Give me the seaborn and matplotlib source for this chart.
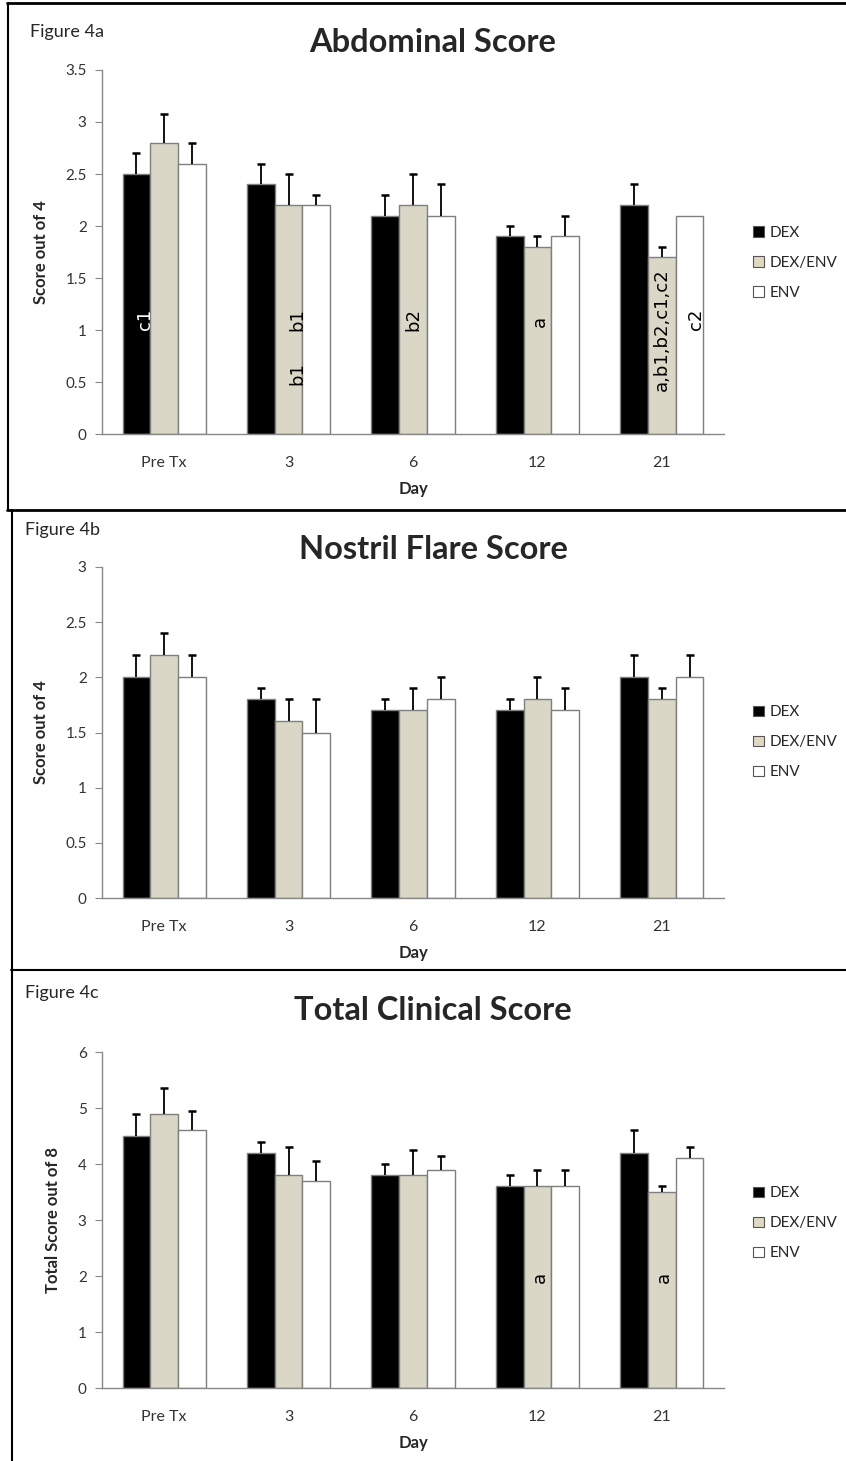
import numpy as np
import pandas as pd
import seaborn as sns
import matplotlib.pyplot as plt
from matplotlib.lines import Line2D
from matplotlib.patches import Patch

days = ["Pre Tx", "3", "6", "12", "21"]
groups = ["DEX", "DEX/ENV", "ENV"]

# Abdominal score (out of 4)
abd_dex = [2.5, 2.4, 2.1, 1.9, 2.2]
abd_dexenv = [2.8, 2.2, 2.2, 1.8, 1.7]
abd_env = [2.6, 2.2, 2.1, 1.9, 2.1]
abd_dex_err = [0.2, 0.2, 0.2, 0.1, 0.2]
abd_dexenv_err = [0.28, 0.3, 0.3, 0.1, 0.1]
abd_env_err = [0.2, 0.1, 0.3, 0.2, 0.0]

# Nostril flare score (out of 4)
nos_dex = [2.0, 1.8, 1.7, 1.7, 2.0]
nos_dexenv = [2.2, 1.6, 1.7, 1.8, 1.8]
nos_env = [2.0, 1.5, 1.8, 1.7, 2.0]
nos_dex_err = [0.2, 0.1, 0.1, 0.1, 0.2]
nos_dexenv_err = [0.2, 0.2, 0.2, 0.2, 0.1]
nos_env_err = [0.2, 0.3, 0.2, 0.2, 0.2]

# Total clinical score (out of 8)
tot_dex = [4.5, 4.2, 3.8, 3.6, 4.2]
tot_dexenv = [4.9, 3.8, 3.8, 3.6, 3.5]
tot_env = [4.6, 3.7, 3.9, 3.6, 4.1]
tot_dex_err = [0.4, 0.2, 0.2, 0.2, 0.4]
tot_dexenv_err = [0.45, 0.5, 0.45, 0.3, 0.1]
tot_env_err = [0.35, 0.35, 0.25, 0.3, 0.2]

# significance letters: (day index, group index, text, y, x offset)
abd_notes = [(0, 0, "c1", 1.1, 0.07), (1, 1, "b1", 1.1, 0.07), (1, 1, "b1", 0.58, 0.07),
             (2, 1, "b2", 1.1, 0.0), (3, 1, "a", 1.08, 0.02),
             (4, 1, "a,b1,b2,c1,c2", 1.0, 0.0), (4, 2, "c2", 1.1, 0.05)]
nos_notes = []
tot_notes = [(3, 1, "a", 1.98, 0.02), (4, 1, "a", 1.98, 0.02)]

palette = {"DEX": "black", "DEX/ENV": "#ddd9c3", "ENV": "white"}
FONT = ["Lato", "DejaVu Sans"]


def make_df(vals, errs):
    rows = []
    for g, v, e in zip(groups, vals, errs):
        for d, vv, ee in zip(days, v, e):
            rows.append({"day": d, "group": g, "score": vv, "err": ee})
    return pd.DataFrame(rows)


def draw_panel(ax, df, ylabel, ymax, ystep, notes, legend_y):
    sns.barplot(data=df, x="day", y="score", hue="group", order=days,
                hue_order=groups, palette=palette, edgecolor="#7f7f7f",
                linewidth=1, errorbar=None, width=0.67, legend=False, ax=ax)
    centers = {}
    bar_containers = list(ax.containers)
    for gi, cont in enumerate(bar_containers):
        sub = df[df["group"] == groups[gi]].set_index("day").loc[days]
        xs, ys, es = [], [], []
        for di, patch in enumerate(cont.patches):
            cx = patch.get_x() + patch.get_width() / 2
            centers[(di, gi)] = cx
            if sub["err"].iloc[di] > 0:
                xs.append(cx)
                ys.append(sub["score"].iloc[di])
                es.append(sub["err"].iloc[di])
        eb = ax.errorbar(xs, ys, yerr=[np.zeros(len(es)), es], fmt="none",
                         ecolor="black", elinewidth=1.3, capsize=3, capthick=1.8)
        # only an upper cap, like the original
        for cap in eb.lines[1]:
            if np.allclose(cap.get_ydata(), ys):
                cap.set_visible(False)
    for di, gi, txt, y, dx in notes:
        color = "white" if gi == 0 else "black"
        ax.text(centers[(di, gi)] + dx, y, txt, rotation=90, ha="center",
                va="center", fontsize=13, color=color, family="DejaVu Sans")

    ax.set_xlim(-0.5, len(days) - 0.5)
    ax.set_ylim(0, ymax)
    ticks = np.arange(0, ymax + ystep / 2, ystep)
    ax.set_yticks(ticks)
    ax.set_yticklabels([f"{t:g}" for t in ticks], family=FONT, fontsize=11, color="#333333")
    ax.set_xticks(range(len(days)))
    ax.set_xticklabels(days, family=FONT, fontsize=11.5, color="#333333")
    ax.set_xticks(np.arange(-0.5, len(days)), minor=True)
    ax.tick_params(axis="x", which="major", length=0, pad=16)
    ax.tick_params(axis="x", which="minor", length=5, color="#888888")
    ax.tick_params(axis="y", length=5, color="#888888", pad=6, left=True)
    for s in ["top", "right"]:
        ax.spines[s].set_visible(False)
    for s in ["left", "bottom"]:
        ax.spines[s].set_color("#888888")
        ax.spines[s].set_linewidth(1)
    ax.set_xlabel("Day", family=FONT, fontsize=12, fontweight="bold", labelpad=8)
    ax.set_ylabel(ylabel, family=FONT, fontsize=12, fontweight="bold", labelpad=12)
    handles = [Patch(facecolor=palette[g], edgecolor="#555555", linewidth=0.8, label=g)
               for g in groups]
    ax.legend(handles=handles, loc="center left", bbox_to_anchor=(1.025, legend_y),
              frameon=False, handlelength=0.7, handleheight=0.7,
              handletextpad=0.4, labelspacing=1.05, prop={"family": FONT, "size": 11})


sns.set_style("white")
plt.rcParams["font.family"] = FONT

W, H = 846, 1461
fig = plt.figure(figsize=(W / 100, H / 100), dpi=100)


def axes_px(x0, y0, x1, y1):
    return fig.add_axes([x0 / W, 1 - y1 / H, (x1 - x0) / W, (y1 - y0) / H])


ax_a = axes_px(102, 70, 724, 434)
ax_b = axes_px(102, 567, 724, 898)
ax_c = axes_px(102, 1052, 724, 1388)

draw_panel(ax_a, make_df([abd_dex, abd_dexenv, abd_env],
                         [abd_dex_err, abd_dexenv_err, abd_env_err]),
           "Score out of 4", 3.5, 0.5, abd_notes, 0.47)
draw_panel(ax_b, make_df([nos_dex, nos_dexenv, nos_env],
                         [nos_dex_err, nos_dexenv_err, nos_env_err]),
           "Score out of 4", 3, 0.5, nos_notes, 0.47)
draw_panel(ax_c, make_df([tot_dex, tot_dexenv, tot_env],
                         [tot_dex_err, tot_dexenv_err, tot_env_err]),
           "Total Score out of 8", 6, 1, tot_notes, 0.49)

# titles and figure labels
for y, title, lab, ly, lx in [(42, "Abdominal Score", "Figure 4a", 32, 30),
                               (549, "Nostril Flare Score", "Figure 4b", 530, 25),
                               (1010, "Total Clinical Score", "Figure 4c", 993, 25)]:
    fig.text(433 / W, 1 - y / H, title, ha="center", va="center",
             fontsize=23.5, fontweight="bold", family=FONT)
    fig.text(lx / W, 1 - ly / H, lab, ha="left", va="center", fontsize=13, family=FONT)


# panel frames
def hline(y, x0=0, x1=W, lw=2):
    fig.add_artist(Line2D([x0 / W, x1 / W], [1 - y / H, 1 - y / H], color="black", lw=lw))


def vline(x, y0, y1, lw=1.5):
    fig.add_artist(Line2D([x / W, x / W], [1 - y0 / H, 1 - y1 / H], color="black", lw=lw))


hline(3, 7, W)
vline(7.5, 3, 509)
hline(509.5, 7, W)
vline(11.5, 510, 970)
hline(970, 11, W, lw=1.5)
vline(11.5, 970, H)

fig.savefig("out.png", dpi=100)
